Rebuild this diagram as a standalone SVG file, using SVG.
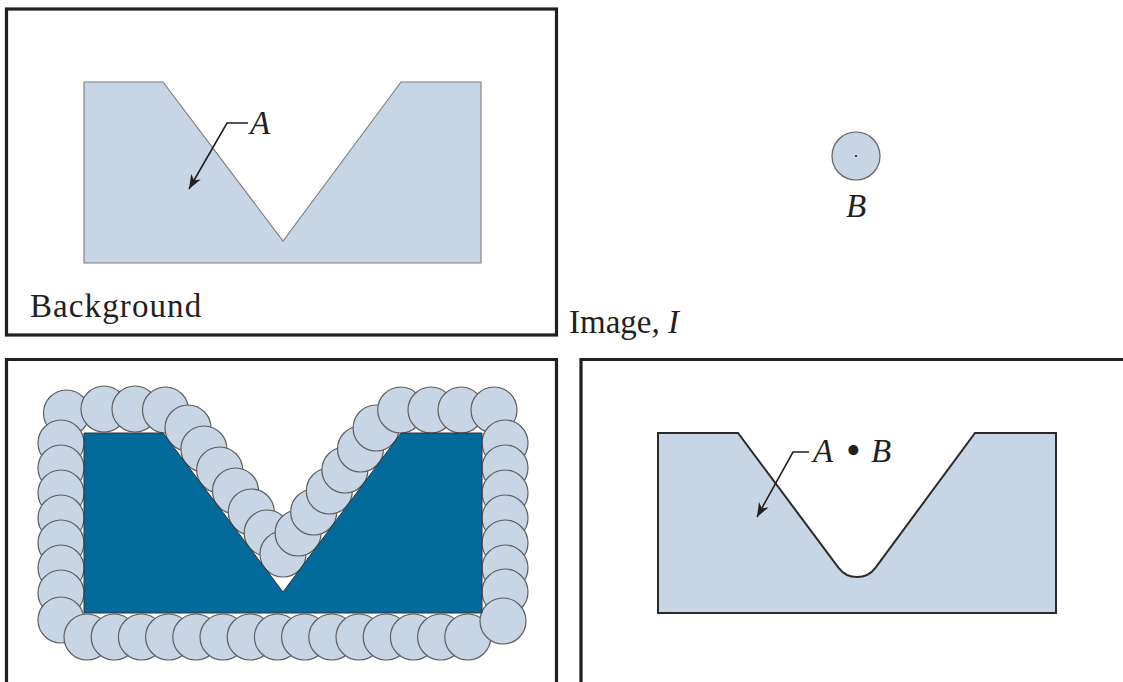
<svg xmlns="http://www.w3.org/2000/svg" width="1123" height="682" viewBox="0 0 1123 682">
  <style>
    .frame { fill: none; stroke: #231f20; stroke-width: 3.2; }
    .setA { fill: #c8d5e5; stroke: #7d7d7d; stroke-width: 1.1; }
    .setAB { fill: #c8d5e5; stroke: #2a2a2a; stroke-width: 2; }
    .dark { fill: #036a9c; stroke: #333; stroke-width: 1; }
    .se { fill: #c8d5e5; stroke: #5e5e5e; stroke-width: 1.2; }
    .lbl { font-family: "Liberation Serif", "Times New Roman", serif; font-size: 33px; fill: #231f20; }
    .it { font-style: italic; }
    .leader { fill: none; stroke: #231f20; stroke-width: 1.6; }
  </style>
  <defs>
    <marker id="arrow" viewBox="-14 -6 15 12" refX="0" refY="0" markerWidth="15" markerHeight="12" markerUnits="userSpaceOnUse" orient="auto">
      <path d="M0,0 L-14,-5.5 L-10,0 L-14,5.5 Z" fill="#231f20"/>
    </marker>
  </defs>
  <rect width="1123" height="682" fill="#ffffff"/>

  <!-- Panel 1: Image with A and background -->
  <g id="panel-image">
    <rect class="frame" x="6.5" y="9" width="550" height="326"/>
    <path class="setA" d="M84,82 H163 L283,241 L401,82 H481 V263 H84 Z"/>
    <text class="lbl" x="30" y="317" letter-spacing="1.1">Background</text>
    <text class="lbl it" x="250" y="134">A</text>
  </g>

  <!-- Structuring element B -->
  <g id="node-B">
    <circle class="se" cx="856" cy="156" r="24" stroke-width="1.5"/>
    <circle cx="856" cy="156" r="1.1" fill="#231f20"/>
    <text class="lbl it" x="856" y="217" text-anchor="middle">B</text>
  </g>

  <g id="caption">
    <text class="lbl" x="569" y="333">Image, <tspan class="it">I</tspan></text>
  </g>

  <!-- Panel 2: B rolled around outside of A -->
  <g id="panel-rolling">
    <path class="frame" d="M6.5,682 V359.5 H556.5 V682"/>
    <g id="circles">
      <circle class="se" cx="66.5" cy="413" r="23"/>
      <circle class="se" cx="104" cy="409" r="23"/>
      <circle class="se" cx="135" cy="409" r="23"/>
      <circle class="se" cx="165.5" cy="410" r="23"/>
      <circle class="se" cx="188" cy="428" r="23"/>
      <circle class="se" cx="203.9" cy="449" r="23"/>
      <circle class="se" cx="219.7" cy="470" r="23"/>
      <circle class="se" cx="235.5" cy="491" r="23"/>
      <circle class="se" cx="251.3" cy="512" r="23"/>
      <circle class="se" cx="267.2" cy="533" r="23"/>
      <circle class="se" cx="283" cy="554" r="23"/>
      <circle class="se" cx="298.1" cy="533" r="23"/>
      <circle class="se" cx="313.7" cy="512" r="23"/>
      <circle class="se" cx="329.3" cy="491" r="23"/>
      <circle class="se" cx="344.9" cy="470" r="23"/>
      <circle class="se" cx="360.5" cy="449" r="23"/>
      <circle class="se" cx="376.1" cy="428" r="23"/>
      <circle class="se" cx="400.7" cy="410" r="23"/>
      <circle class="se" cx="431" cy="410" r="23"/>
      <circle class="se" cx="461" cy="410" r="23"/>
      <circle class="se" cx="494" cy="410" r="23"/>
      <circle class="se" cx="505" cy="443" r="23"/>
      <circle class="se" cx="505" cy="468" r="23"/>
      <circle class="se" cx="505" cy="493" r="23"/>
      <circle class="se" cx="505" cy="518" r="23"/>
      <circle class="se" cx="505" cy="543" r="23"/>
      <circle class="se" cx="505" cy="568" r="23"/>
      <circle class="se" cx="505" cy="592" r="23"/>
      <circle class="se" cx="61" cy="443" r="23"/>
      <circle class="se" cx="61" cy="468" r="23"/>
      <circle class="se" cx="61" cy="493" r="23"/>
      <circle class="se" cx="61" cy="518" r="23"/>
      <circle class="se" cx="61" cy="543" r="23"/>
      <circle class="se" cx="61" cy="568" r="23"/>
      <circle class="se" cx="61" cy="593" r="23"/>
      <circle class="se" cx="61" cy="620" r="23"/>
      <circle class="se" cx="87" cy="637" r="23"/>
      <circle class="se" cx="114.2" cy="637" r="23"/>
      <circle class="se" cx="141.4" cy="637" r="23"/>
      <circle class="se" cx="168.6" cy="637" r="23"/>
      <circle class="se" cx="195.8" cy="637" r="23"/>
      <circle class="se" cx="223" cy="637" r="23"/>
      <circle class="se" cx="250.2" cy="637" r="23"/>
      <circle class="se" cx="277.4" cy="637" r="23"/>
      <circle class="se" cx="304.6" cy="637" r="23"/>
      <circle class="se" cx="331.8" cy="637" r="23"/>
      <circle class="se" cx="359" cy="637" r="23"/>
      <circle class="se" cx="386.2" cy="637" r="23"/>
      <circle class="se" cx="413.4" cy="637" r="23"/>
      <circle class="se" cx="440.6" cy="637" r="23"/>
      <circle class="se" cx="467.8" cy="637" r="23"/>
      <circle class="se" cx="503" cy="621" r="23"/>
    </g>
    <path class="dark" d="M84,433 H163 L283,592 L401,433 H482 V613 H84 Z"/>
  </g>

  <!-- Panel 3: closing result -->
  <g id="panel-closing">
    <path class="frame" d="M581,682 V359.5 H1123"/>
    <path class="setAB" d="M658,433 H738 L838.6,567.8 A23,23 0 0 0 875.4,567.8 L975,433 H1056 V613 H658 Z"/>
    <text class="lbl it" y="462"><tspan x="813">A</tspan><tspan x="846" dy="2" font-style="normal" font-size="42">•</tspan><tspan x="871" dy="-2">B</tspan></text>
  </g>

  <!-- Leader connectors -->
  <g id="connectors">
    <path class="leader" d="M248,123 H227 L189,189" marker-end="url(#arrow)"/>
    <path class="leader" d="M809,452 H793 L757,517" marker-end="url(#arrow)"/>
  </g>
</svg>
